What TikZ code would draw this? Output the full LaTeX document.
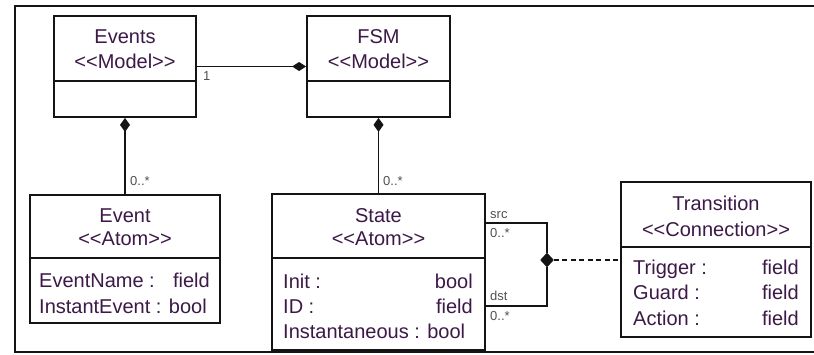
\documentclass[tikz,border=0pt]{standalone}
\usepackage{fontspec}
\setmainfont{Liberation Sans}
\usetikzlibrary{arrows.meta,shapes.geometric}
\definecolor{txt}{RGB}{60,25,70}
\definecolor{lbl}{RGB}{80,80,80}
\definecolor{ln}{RGB}{20,20,20}
\newcommand\ltlt{<\kern0pt<}
\newcommand\gtgt{>\kern0pt>}
\begin{document}
\begin{tikzpicture}[x=1pt,y=-1pt,
 box/.style={draw=ln,line width=1.8pt,rectangle,inner sep=0pt,fill=white},
 tx/.style={text=txt,font=\fontsize{20}{24}\selectfont,inner sep=0pt,anchor=base},
 txl/.style={tx,anchor=base west},
 txr/.style={tx,anchor=base east},
 lb/.style={text=lbl,font=\fontsize{13}{15}\selectfont,inner sep=0pt,anchor=base west},
 conn/.style={draw=ln,line width=1.6pt},
 agg/.style={conn,{Diamond[length=14pt,width=10pt]}-},
 sep/.style={draw=ln,line width=1.6pt},
]
\useasboundingbox (0,0) rectangle (814,354);
\draw[ln,line width=1.7pt] (816,6) -- (15,6) -- (15,352) -- (816,352);

% Events
\node[box,minimum width=142pt,minimum height=101pt] (events) at (125,66.5) {};
\draw[sep] ([yshift=-66pt]events.north west) -- ([yshift=-66pt]events.north east);
\node[tx] (events-n) at (125,43) {Events};
\node[tx] (events-s) at (125,68) {\ltlt Model\gtgt};

% FSM
\node[box,minimum width=143pt,minimum height=101pt] (fsm) at (378.5,66.5) {};
\draw[sep] ([yshift=-66pt]fsm.north west) -- ([yshift=-66pt]fsm.north east);
\node[tx] (fsm-n) at (378.5,43) {FSM};
\node[tx] (fsm-s) at (378.5,68) {\ltlt Model\gtgt};

% Event
\node[box,minimum width=190pt,minimum height=128pt] (event) at (125,259) {};
\draw[sep] ([yshift=-64pt]event.north west) -- ([yshift=-64pt]event.north east);
\node[tx] (event-n) at (125,222) {Event};
\node[tx] (event-s) at (125,245) {\ltlt Atom\gtgt};
\node[txl] (event-a1) at (39,287) {EventName :};
\node[txr] (event-v1) at (210,287) {field};
\node[txl] (event-a2) at (39,313) {InstantEvent : bool};

% State
\node[box,minimum width=213pt,minimum height=156pt] (state) at (378.5,272) {};
\draw[sep] ([yshift=-65pt]state.north west) -- ([yshift=-65pt]state.north east);
\node[tx] (state-n) at (378.5,222) {State};
\node[tx] (state-s) at (378.5,245) {\ltlt Atom\gtgt};
\node[txl] (state-a1) at (283,288) {Init :};
\node[txr] (state-v1) at (473,288) {bool};
\node[txl] (state-a2) at (283,313) {ID :};
\node[txr] (state-v2) at (473,313) {field};
\node[txl] (state-a3) at (283,338) {Instantaneous : bool};

% Transition
\node[box,minimum width=190pt,minimum height=155pt] (trans) at (716,259.5) {};
\draw[sep] ([yshift=-66pt]trans.north west) -- ([yshift=-66pt]trans.north east);
\node[tx] (trans-n) at (716,210) {Transition};
\node[tx] (trans-s) at (716,236) {\ltlt Connection\gtgt};
\node[txl] (trans-a1) at (633,274) {Trigger :};
\node[txr] (trans-v1) at (799,274) {field};
\node[txl] (trans-a2) at (633,299) {Guard :};
\node[txr] (trans-v2) at (799,299) {field};
\node[txl] (trans-a3) at (633,325) {Action :};
\node[txr] (trans-v3) at (799,325) {field};

% connectors
\draw[conn,-{Diamond[length=14pt,width=9pt]}] (events.east) -- (fsm.west);
\node[lb] (l1) at (203,80) {1};
\draw[agg] (events.south) -- (event.north);
\node[lb] (l2) at (130,185) {0..*};
\draw[agg] (fsm.south) -- (state.north);
\node[lb] (l3) at (383,185) {0..*};

\node[draw=ln,fill=ln,diamond,inner sep=0pt,minimum width=13pt,minimum height=14pt] (j) at (547,260) {};
\coordinate (srcS) at (485,223);
\coordinate (dstS) at (485,306);
\draw[conn] (srcS) -| (j.north);
\draw[conn] (dstS) -| (j.south);
\draw[ln,line width=1.4pt,dash pattern=on 5pt off 3.5pt] (j.east) -- (j.east -| trans.west);
\node[lb] (l4) at (490,218) {src};
\node[lb] (l5) at (490,237) {0..*};
\node[lb] (l6) at (490,300) {dst};
\node[lb] (l7) at (490,320) {0..*};
\end{tikzpicture}
\end{document}
